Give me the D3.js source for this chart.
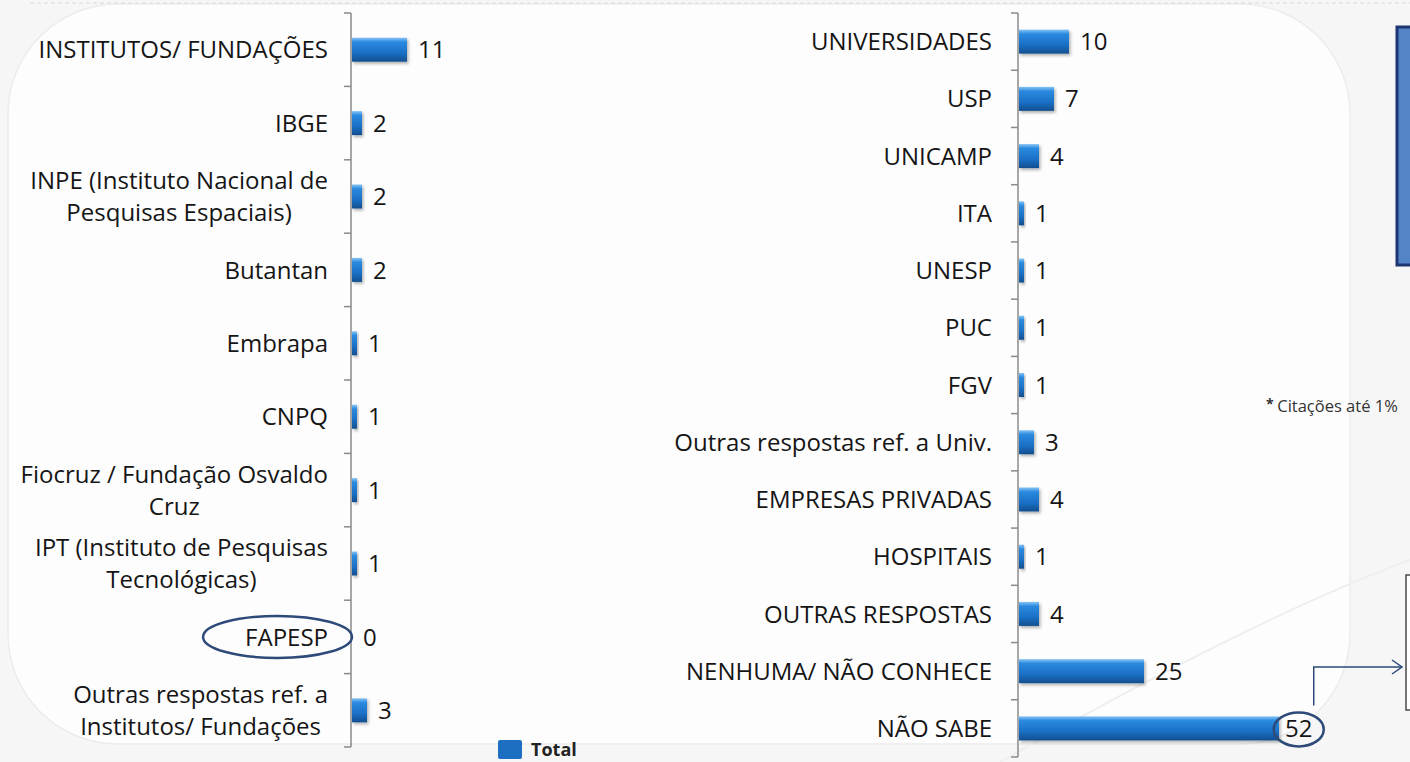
<!DOCTYPE html>
<html>
<head>
<meta charset="utf-8">
<script src="https://cdn.jsdelivr.net/npm/d3@7"></script>
<style>
  body { margin: 0; background: #f8f8f8; }
  text { font-family: "Open Sans", Lato, sans-serif; }
</style>
</head>
<body>
<svg id="chart" width="1410" height="762"></svg>
<script>
// left panel: institutos
var leftCats = [
	["INSTITUTOS/ FUNDAÇÕES"],
	["IBGE"],
	["INPE (Instituto Nacional de", "Pesquisas Espaciais)"],
	["Butantan"],
	["Embrapa"],
	["CNPQ"],
	["Fiocruz / Fundação Osvaldo", "Cruz"],
	["IPT (Instituto de Pesquisas", "Tecnológicas)"],
	["FAPESP"],
	["Outras respostas ref. a", "Institutos/ Fundações"]
]
var leftVals = [11, 2, 2, 2, 1, 1, 1, 1, 0, 3]

// right panel: universidades etc
var rightCats = [
	["UNIVERSIDADES"], ["USP"], ["UNICAMP"], ["ITA"], ["UNESP"], ["PUC"], ["FGV"],
	["Outras respostas ref. a Univ."], ["EMPRESAS PRIVADAS"], ["HOSPITAIS"],
	["OUTRAS RESPOSTAS"], ["NENHUMA/ NÃO CONHECE"], ["NÃO SABE"]
]
var rightVals = [10, 7, 4, 1, 1, 1, 1, 3, 4, 1, 4, 25, 52]

var legendLabel = "Total"
var footnote = "Citações até 1%"

var svg = d3.select("#chart")
var W = 1410, H = 762
var fontSize = 24
var barH = 24

var defs = svg.append("defs")
var grad = defs.append("linearGradient")
	.attr("id", "barGrad")
	.attr("x1", 0).attr("y1", 0).attr("x2", 0).attr("y2", 1)
grad.append("stop").attr("offset", "0%").attr("stop-color", "#86c4f4")
grad.append("stop").attr("offset", "18%").attr("stop-color", "#2a8ae0")
grad.append("stop").attr("offset", "65%").attr("stop-color", "#1a6fc4")
grad.append("stop").attr("offset", "100%").attr("stop-color", "#104e8e")

var shadow = defs.append("filter").attr("id", "shadow")
	.attr("x", "-20%").attr("y", "-30%").attr("width", "150%").attr("height", "180%")
shadow.append("feDropShadow")
	.attr("dx", 1.5).attr("dy", 2).attr("stdDeviation", 1.5)
	.attr("flood-color", "#000").attr("flood-opacity", 0.3)

// background
svg.append("rect").attr("width", W).attr("height", H).attr("fill", "#f6f6f6")
svg.append("rect")
	.attr("x", 8).attr("y", 4).attr("width", 1342).attr("height", 740)
	.attr("rx", 110).attr("ry", 110)
	.attr("fill", "#fdfdfd").attr("stroke", "#ececec").attr("stroke-width", 1.5)
svg.append("line")
	.attr("x1", 30).attr("x2", W).attr("y1", 3).attr("y2", 3)
	.attr("stroke", "#dadada").attr("stroke-dasharray", "4,3")
svg.append("path")
	.attr("d", "M1000,762 Q1250,620 1410,560")
	.attr("fill", "none").attr("stroke", "#efefef").attr("stroke-width", 2)

var x = d3.scaleLinear().domain([0, 52]).range([0, 260])

function drawPanel(cats, vals, x0, yRange, labelRight){
	var y = d3.scaleBand().domain(d3.range(cats.length)).range(yRange).padding(0)
	var g = svg.append("g").classed("panel", true)

	// axis line + ticks at band boundaries
	g.append("line")
		.attr("x1", x0).attr("x2", x0)
		.attr("y1", yRange[0]).attr("y2", yRange[1])
		.attr("stroke", "#8a8a8a").attr("stroke-width", 1.5)
	var edges = d3.range(cats.length + 1).map(function(i){ return yRange[0] + i * y.step() })
	g.selectAll(".tick").data(edges).enter().append("line")
		.attr("x1", x0 - 7).attr("x2", x0)
		.attr("y1", function(d){ return d }).attr("y2", function(d){ return d })
		.attr("stroke", "#8a8a8a").attr("stroke-width", 1.5)

	var data = cats.map(function(c, i){ return {lines: c, v: vals[i], i: i} })

	g.selectAll(".bar").data(data).enter().append("rect")
		.classed("bar", true)
		.attr("x", x0 + 1)
		.attr("y", function(d){ return y(d.i) + y.bandwidth()/2 - barH/2 })
		.attr("width", function(d){ return x(d.v) })
		.attr("height", barH)
		.attr("fill", "url(#barGrad)")
		.attr("filter", "url(#shadow)")

	g.selectAll(".val").data(data).enter().append("text")
		.classed("val", true)
		.attr("x", function(d){ return x0 + x(d.v) + (d.v > 40 ? 7 : 12) })
		.attr("y", function(d){ return y(d.i) + y.bandwidth()/2 })
		.attr("dy", "0.36em")
		.attr("font-size", fontSize)
		.attr("fill", "#151515")
		.text(function(d){ return d.v })
		.each(function(d){ d.valNode = this })

	// category labels, wrapped lines centred inside a right-aligned block
	var lab = g.selectAll(".lab").data(data).enter().append("text")
		.classed("lab", true)
		.attr("font-size", fontSize)
		.attr("fill", "#151515")
		.attr("text-anchor", "middle")
	lab.each(function(d){
		var t = d3.select(this)
		var n = d.lines.length
		var lh = 32
		var cy = y(d.i) + y.bandwidth()/2
		d.lines.forEach(function(s, k){
			t.append("tspan")
				.attr("y", cy + (k - (n - 1)/2) * lh)
				.attr("dy", "0.36em")
				.text(s)
		})
		var maxW = 0
		t.selectAll("tspan").each(function(){ maxW = Math.max(maxW, this.getComputedTextLength()) })
		t.selectAll("tspan").attr("x", labelRight - maxW/2)
		d.w = maxW
		d.cy = cy
	})
	return {y: y, data: data}
}

var left = drawPanel(leftCats, leftVals, 351, [13, 747], 328)
var right = drawPanel(rightCats, rightVals, 1018, [13, 757], 992)

// FAPESP highlight
var fap = left.data[8]
svg.append("ellipse")
	.attr("cx", 328 - fap.w/2 - 9).attr("cy", fap.cy)
	.attr("rx", fap.w/2 + 33).attr("ry", 21)
	.attr("fill", "none").attr("stroke", "#2d4a78").attr("stroke-width", 2.5)

// 52 highlight + arrow
var ns = right.data[12]
var bb = ns.valNode.getBBox()
var ex = bb.x + bb.width/2
svg.append("ellipse")
	.attr("cx", ex).attr("cy", ns.cy + 1)
	.attr("rx", 25).attr("ry", 17)
	.attr("fill", "none").attr("stroke", "#2d4a78").attr("stroke-width", 2.5)
svg.append("path")
	.attr("d", "M" + (ex + 15) + "," + (ns.cy - 23) + " V667 H1401")
	.attr("fill", "none").attr("stroke", "#2d4a78").attr("stroke-width", 1.5)
svg.append("path")
	.attr("d", "M1392,660 L1402,667 L1392,674")
	.attr("fill", "none").attr("stroke", "#2d4a78").attr("stroke-width", 1.5)

// side boxes (cut at the edge)
svg.append("rect")
	.attr("x", 1397).attr("y", 27).attr("width", 30).attr("height", 238)
	.attr("fill", "#5584c6").attr("stroke", "#1d3570").attr("stroke-width", 3)
svg.append("rect")
	.attr("x", 1406).attr("y", 575).attr("width", 30).attr("height", 135)
	.attr("fill", "#ffffff").attr("stroke", "#4a4a4a").attr("stroke-width", 1.5)

// footnote
var fn = svg.append("text")
	.attr("x", 1266).attr("y", 412)
	.attr("font-size", 16.5).attr("fill", "#333")
fn.append("tspan").attr("font-size", 14).attr("font-weight", "bold").attr("dy", -3).text("* ")
fn.append("tspan").attr("dy", 3).text(footnote)

// legend
svg.append("rect")
	.attr("x", 498).attr("y", 740).attr("width", 24).attr("height", 19).attr("rx", 2)
	.attr("fill", "#1d6fc2")
svg.append("text")
	.attr("x", 531).attr("y", 756)
	.attr("font-family", "Liberation Sans, Arial, sans-serif")
	.attr("font-weight", "bold").attr("font-size", 18).attr("fill", "#222")
	.text(legendLabel)
</script>
</body>
</html>
